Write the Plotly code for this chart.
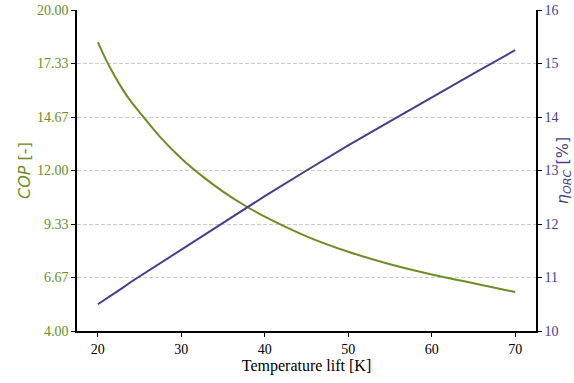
import plotly.graph_objects as go

temp_lift = [20, 21, 22, 23, 24, 25, 27.5, 30, 32.5, 35, 37.5, 40, 45, 50, 55, 60, 65, 70]
cop = [18.4, 17.5, 16.72, 16.02, 15.42, 14.9, 13.65, 12.6, 11.72, 10.95, 10.28, 9.7, 8.72, 7.95, 7.33, 6.82, 6.38, 5.94]
eta_orc = [10.50, 10.60, 10.71, 10.81, 10.92, 11.02, 11.27, 11.53, 11.78, 12.03, 12.28, 12.52, 13.00, 13.47, 13.92, 14.37, 14.81, 15.25]

left_ticks = [4 + i * 16 / 6 for i in range(7)]
left_ticktext = ["%.2f" % v for v in left_ticks]
right_ticks = [10, 11, 12, 13, 14, 15, 16]

GREEN = "#6b8e23"
PURPLE = "#483d8b"
SERIF = "Liberation Serif"
SANS = "DejaVu Sans"

fig = go.Figure()
fig.add_trace(go.Scatter(x=temp_lift, y=cop, mode="lines", line=dict(color=GREEN, width=2, shape="spline", smoothing=0.8),
                         yaxis="y", showlegend=False))
fig.add_trace(go.Scatter(x=temp_lift, y=eta_orc, mode="lines", line=dict(color=PURPLE, width=2),
                         yaxis="y2", showlegend=False))

fig.update_layout(
    width=574, height=383,
    margin=dict(l=77, r=38, t=10, b=52, autoexpand=False),
    paper_bgcolor="white", plot_bgcolor="white",
    font=dict(family=SERIF, size=14, color="black"),
    xaxis=dict(
        range=[17.5, 72.5], tickvals=[20, 30, 40, 50, 60, 70],
        showline=True, linecolor="black", linewidth=1.5, mirror=False,
        ticks="outside", ticklen=4, tickwidth=1, tickcolor="black",
        showgrid=False, zeroline=False, automargin=False,
        tickfont=dict(family=SERIF, size=14, color="black"),
        title=dict(text="Temperature lift [K]", font=dict(family=SERIF, size=16, color="black"), standoff=4),
    ),
    yaxis=dict(
        range=[4, 20], tickvals=left_ticks, ticktext=left_ticktext,
        showline=True, linecolor="black", linewidth=1.5, automargin=False,
        ticks="outside", ticklen=4, tickwidth=1, tickcolor="black",
        showgrid=True, gridcolor="#cccccc", griddash="4px,2px", gridwidth=1,
        zeroline=False,
        tickfont=dict(family=SERIF, size=14, color=GREEN),
        title=dict(text="<i>COP</i> [-]", font=dict(family=SANS, size=16, color=GREEN), standoff=2),
    ),
    yaxis2=dict(
        range=[10, 16], tickvals=right_ticks,
        overlaying="y", side="right", anchor="x", automargin=False,
        showline=True, linecolor="black", linewidth=1.5,
        ticks="outside", ticklen=4, tickwidth=1, tickcolor="black",
        showgrid=False, zeroline=False,
        tickfont=dict(family=SERIF, size=14, color=PURPLE),
        title=dict(text="<i>η</i><sub><i>ORC</i></sub> [%]", font=dict(family=SANS, size=16, color=PURPLE), standoff=6),
    ),
)

fig.write_html("out.html")
